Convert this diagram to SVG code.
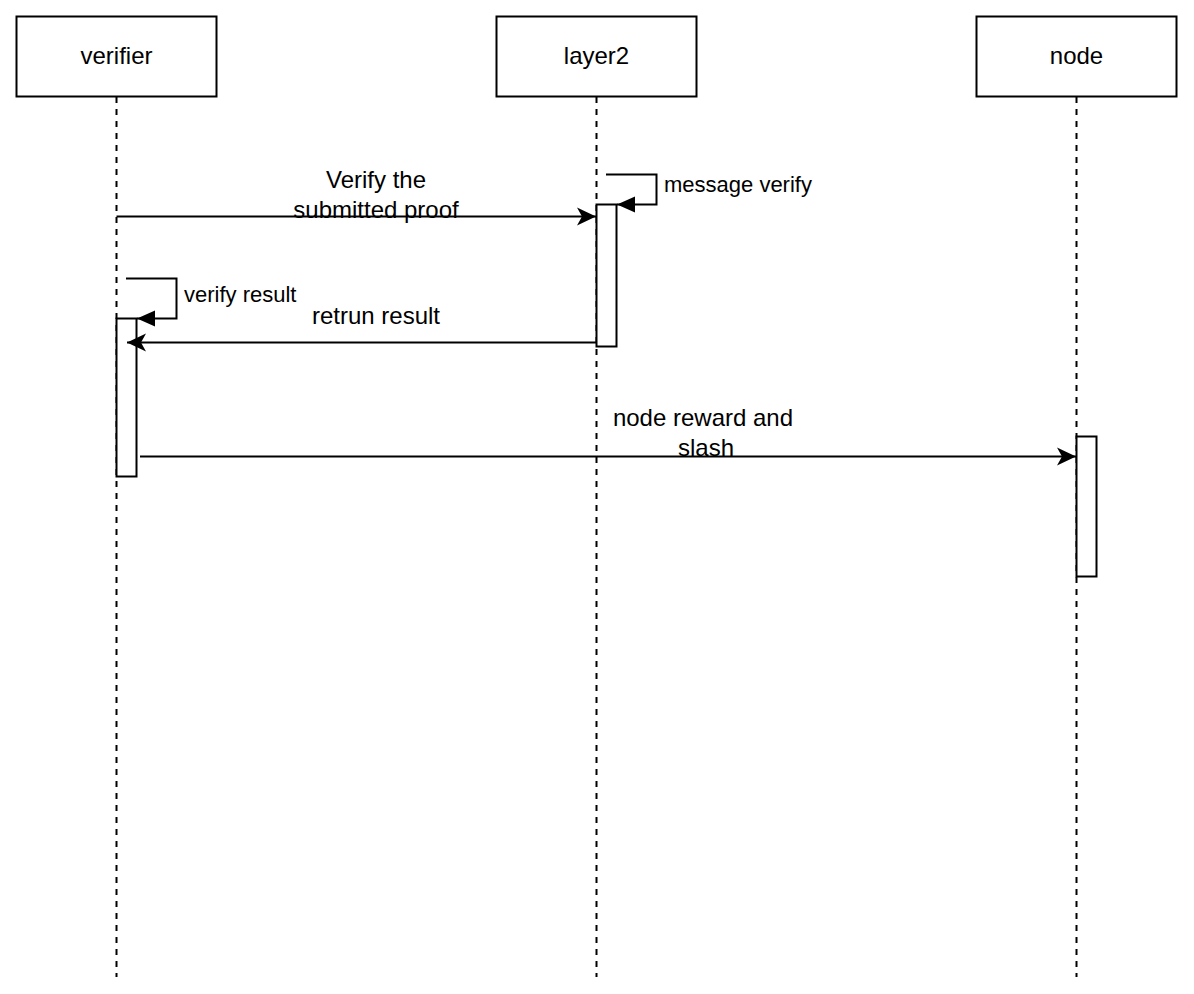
<svg xmlns="http://www.w3.org/2000/svg" width="1194" height="994" viewBox="0 0 1194 994">
<style>
.box{fill:#fff;stroke:#000;stroke-width:2}
.life{stroke:#000;stroke-width:2;stroke-dasharray:6 6;fill:none}
.act{fill:#fff;stroke:#000;stroke-width:2}
.msg{stroke:#000;stroke-width:2;fill:none}
text{font-family:"Liberation Sans",Arial,sans-serif;fill:#000}
.t24{font-size:24px;text-anchor:middle}
.t22{font-size:22px}
</style>
<defs>
<marker id="classic" markerUnits="userSpaceOnUse" markerWidth="20" markerHeight="20" viewBox="-19 -10 20 20" refX="0" refY="0" orient="auto">
<path d="M0,0 L-19,-9 L-14,0 L-19,9 Z" fill="#000"/>
</marker>
<marker id="block" markerUnits="userSpaceOnUse" markerWidth="20" markerHeight="20" viewBox="-19 -10 20 20" refX="0" refY="0" orient="auto">
<path d="M0,0 L-18,-8 L-18,8 Z" fill="#000"/>
</marker>
</defs>
<g id="verifier">
<line class="life" x1="116.5" y1="97" x2="116.5" y2="977"/>
<rect class="box" x="16.5" y="16.5" width="200" height="80"/>
<text class="t24" x="116.5" y="64">verifier</text>
</g>
<g id="layer2">
<line class="life" x1="596.5" y1="97" x2="596.5" y2="977"/>
<rect class="box" x="496.5" y="16.5" width="200" height="80"/>
<text class="t24" x="596.5" y="64">layer2</text>
</g>
<g id="node">
<line class="life" x1="1076.5" y1="97" x2="1076.5" y2="977"/>
<rect class="box" x="976.5" y="16.5" width="200" height="80"/>
<text class="t24" x="1076.5" y="64">node</text>
</g>
<g id="act-layer2"><rect class="act" x="596.5" y="204.5" width="20" height="142"/></g>
<g id="act-verifier"><rect class="act" x="116.5" y="318.5" width="20" height="158"/></g>
<g id="act-node"><rect class="act" x="1076.5" y="436.5" width="20" height="140"/></g>
<g id="connectors">
<line class="msg" x1="116.5" y1="216.5" x2="596" y2="216.5" marker-end="url(#classic)"/>
<polyline class="msg" points="606,174.5 656.5,174.5 656.5,204.5 617,204.5" marker-end="url(#block)"/>
<polyline class="msg" points="126,278.5 176.5,278.5 176.5,318.5 137,318.5" marker-end="url(#block)"/>
<line class="msg" x1="596.5" y1="342.5" x2="127" y2="342.5" marker-end="url(#classic)"/>
<line class="msg" x1="140" y1="456.5" x2="1076" y2="456.5" marker-end="url(#classic)"/>
</g>
<g id="labels">
<text class="t24" x="376" y="188">Verify the</text>
<text class="t24" x="376" y="218">submitted proof</text>
<text class="t22" x="664" y="192">message verify</text>
<text class="t22" x="184" y="302">verify result</text>
<text class="t24" x="376" y="324">retrun result</text>
<text class="t24" x="703" y="426">node reward and</text>
<text class="t24" x="706" y="456">slash</text>
</g>
</svg>
